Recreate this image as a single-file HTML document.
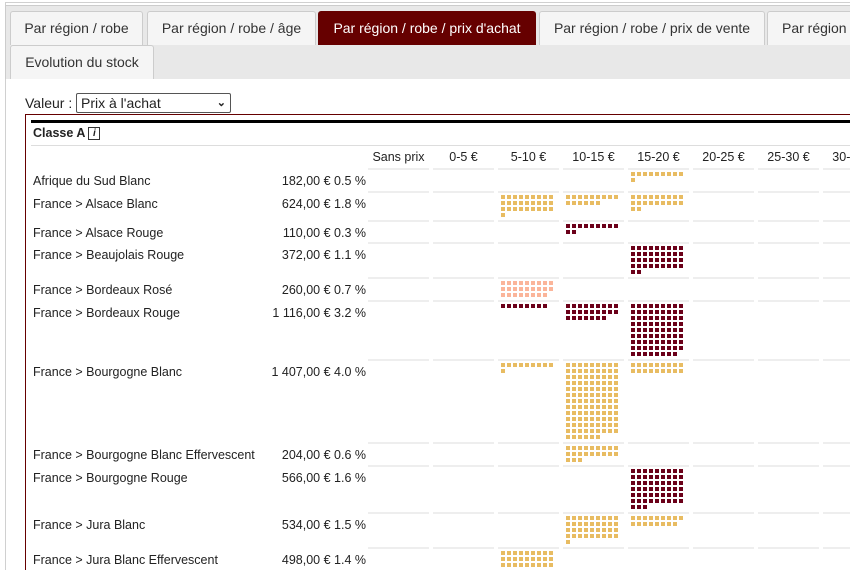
<!DOCTYPE html>
<html><head><meta charset="utf-8">
<style>
html,body{margin:0;width:850px;height:570px;overflow:hidden}
body{background:#fff;font-family:"Liberation Sans",sans-serif;color:#222}
#w{position:relative;width:850px;height:570px;overflow:hidden}
.a{position:absolute}
.strip{left:5px;top:5px;width:845px;height:73px;background:#e8e8e8;border-top:1px solid #ccc;border-left:1px solid #ccc}
.outer{left:5px;top:2px;width:845px;height:568px;border-left:1px solid #d0d0d0;border-top:1px solid #d0d0d0}
.tab{position:absolute;height:33px;line-height:33px;font-size:14px;color:#333;background:#f5f5f5;border:1px solid #ccc;border-bottom:none;border-radius:3px 3px 0 0;text-align:center}
.tab.on{background:#660000;color:#fff;border-color:#660000}
.t{position:absolute;font-size:12.5px;white-space:nowrap}
.h{position:absolute;font-size:12.5px;width:65px;text-align:center}
.ln{position:absolute;height:2px;background:#eee}
.sq{position:absolute;width:4px;height:4px}
</style></head><body><div id="w">
<div class="a outer"></div>
<div class="a strip"></div>
<div class="tab" style="left:10px;top:11px;width:131px">Par région / robe</div>
<div class="tab" style="left:147px;top:11px;width:167px">Par région / robe / âge</div>
<div class="tab on" style="left:318px;top:11px;width:216px">Par région / robe / prix d'achat</div>
<div class="tab" style="left:539px;top:11px;width:224px">Par région / robe / prix de vente</div>
<div class="tab" style="left:767px;top:11px;width:70px;text-align:left;padding-left:14px">Par région</div>
<div class="tab" style="left:10px;top:45px;width:142px">Evolution du stock</div>
<div class="t" style="left:25px;top:95px;font-size:14px">Valeur :</div>
<div class="a" style="left:76px;top:93px;border:1px solid #555;border-radius:2px;font-size:14px;line-height:18px;padding-left:4px;box-sizing:border-box;width:155px;height:20px">Prix à l'achat<span style="position:absolute;right:4px;top:0;font-size:11px;font-weight:bold">&#x2304;</span></div>
<div class="a" style="left:25px;top:114px;width:825px;height:456px;border:1px solid #660000;border-right:none;border-bottom:none"></div>
<div class="a" style="left:31px;top:120px;width:819px;height:3px;background:#000"></div>
<div class="t" style="left:33px;top:126px;font-weight:bold">Classe A <span style="display:inline-block;border:1px solid #333;width:10px;height:11px;line-height:11px;font-size:10px;text-align:center;font-style:italic;vertical-align:1px">i</span></div>
<div class="a" style="left:31px;top:145px;width:819px;height:1px;background:#ddd"></div>
<div id="c"></div>
</div>
<script>
var c=document.getElementById('c'),h='';
var heads=['Sans prix','0-5 €','5-10 €','10-15 €','15-20 €','20-25 €','25-30 €','30-35 €'];
heads.forEach(function(s,i){h+='<div class="h" style="left:'+(366+i*65)+'px;top:150px">'+s+'</div>';});
var Y='#e8bc62',D='#6b0019',S='#fbb59a';
var rows=[
['Afrique du Sud Blanc','182,00 € 0.5 %',169,23,[[4,10,Y]]],
['France > Alsace Blanc','624,00 € 1.8 %',192,29,[[2,28,Y],[3,15,Y],[4,20,Y]]],
['France > Alsace Rouge','110,00 € 0.3 %',221,22,[[3,11,D]]],
['France > Beaujolais Rouge','372,00 € 1.1 %',243,35,[[4,38,D]]],
['France > Bordeaux Rosé','260,00 € 0.7 %',278,23,[[2,26,S]]],
['France > Bordeaux Rouge','1 116,00 € 3.2 %',301,59,[[2,8,D],[3,25,D],[4,80,D]]],
['France > Bourgogne Blanc','1 407,00 € 4.0 %',360,83,[[2,10,Y],[3,114,Y],[4,18,Y]]],
['France > Bourgogne Blanc Effervescent','204,00 € 0.6 %',443,23,[[3,21,Y]]],
['France > Bourgogne Rouge','566,00 € 1.6 %',466,47,[[4,57,D]]],
['France > Jura Blanc','534,00 € 1.5 %',513,35,[[3,37,Y],[4,17,Y]]],
['France > Jura Blanc Effervescent','498,00 € 1.4 %',548,35,[[2,27,Y]]]
];
rows.forEach(function(r){
 var y=r[2];
 h+='<div class="t" style="left:33px;top:'+(y+5)+'px">'+r[0].replace('>','&gt;')+'</div>';
 h+='<div class="t" style="right:'+(850-366)+'px;top:'+(y+5)+'px">'+r[1]+'</div>';
 for(var i=0;i<8;i++)h+='<div class="ln" style="left:'+(368+i*65)+'px;top:'+(y-1)+'px;width:61px"></div>';
 r[4].forEach(function(cell){
  var x0=368+cell[0]*65+3;
  for(var k=0;k<cell[1];k++){
   var yy=y+3+Math.floor(k/9)*6; if(yy>566) continue;
   h+='<div class="sq" style="left:'+(x0+(k%9)*6)+'px;top:'+yy+'px;background:'+cell[2]+'"></div>';
  }
 });
});
c.innerHTML=h;
</script>
</body></html>
